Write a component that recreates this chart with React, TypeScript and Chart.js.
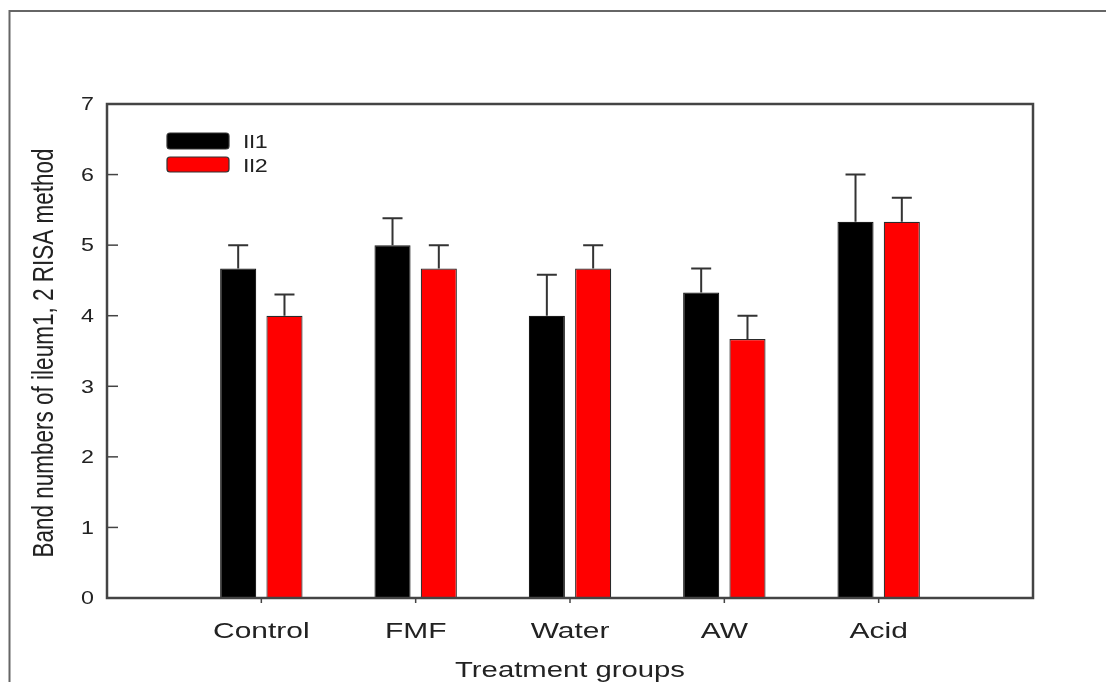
import React, { useEffect, useRef } from 'react';
import { Chart, registerables } from 'chart.js';

Chart.register(...registerables);

const categories = ['Control', 'FMF', 'Water', 'AW', 'Acid'];
const seriesNames = ['Il1', 'Il2'];
const il1Values = [4.67, 5.0, 4.0, 4.33, 5.33];
const il1Errors = [0.33, 0.38, 0.58, 0.34, 0.67];
const il2Values = [4.0, 4.67, 4.67, 3.67, 5.33];
const il2Errors = [0.3, 0.33, 0.33, 0.33, 0.34];
const yTickValues = [0, 1, 2, 3, 4, 5, 6, 7];
const yTitle = 'Band numbers of ileum1, 2 RISA method';
const xTitle = 'Treatment groups';

const FONT = '"Liberation Sans", Arial, Helvetica, sans-serif';
const TEXT = '#222';
const AXIS = '#444';
const SX = 1.33;

function drawText(
  ctx: CanvasRenderingContext2D,
  text: string,
  x: number,
  y: number,
  size: number,
  align: CanvasTextAlign,
  baseline: CanvasTextBaseline,
  stretch: number,
  rotated = false
) {
  ctx.save();
  ctx.translate(x, y);
  if (rotated) {
    ctx.rotate(-Math.PI / 2);
    ctx.scale(1, stretch);
  } else {
    ctx.scale(stretch, 1);
  }
  ctx.font = `${size}px ${FONT}`;
  ctx.fillStyle = TEXT;
  ctx.textAlign = align;
  ctx.textBaseline = baseline;
  ctx.fillText(text, 0, 0);
  ctx.restore();
}

function roundRect(ctx: CanvasRenderingContext2D, x: number, y: number, w: number, h: number, r: number) {
  ctx.beginPath();
  ctx.moveTo(x + r, y);
  ctx.lineTo(x + w - r, y);
  ctx.quadraticCurveTo(x + w, y, x + w, y + r);
  ctx.lineTo(x + w, y + h - r);
  ctx.quadraticCurveTo(x + w, y + h, x + w - r, y + h);
  ctx.lineTo(x + r, y + h);
  ctx.quadraticCurveTo(x, y + h, x, y + h - r);
  ctx.lineTo(x, y + r);
  ctx.quadraticCurveTo(x, y, x + r, y);
  ctx.closePath();
}

const decorPlugin = {
  id: 'decor',
  beforeDraw(chart: any) {
    const ctx: CanvasRenderingContext2D = chart.ctx;
    ctx.save();
    ctx.fillStyle = '#fff';
    ctx.fillRect(0, 0, chart.width, chart.height);
    // outer frame (top and left visible)
    ctx.strokeStyle = '#666';
    ctx.lineWidth = 2;
    ctx.beginPath();
    ctx.moveTo(9.5, chart.height + 2);
    ctx.lineTo(9.5, 11);
    ctx.lineTo(chart.width + 2, 11);
    ctx.stroke();
    ctx.restore();
  },
  afterDatasetsDraw(chart: any) {
    const ctx: CanvasRenderingContext2D = chart.ctx;
    const area = chart.chartArea;
    const xs = chart.scales.x;
    const ys = chart.scales.y;
    ctx.save();

    // error bars
    chart.data.datasets.forEach((ds: any, di: number) => {
      const meta = chart.getDatasetMeta(di);
      meta.data.forEach((bar: any, i: number) => {
        const v = ds.data[i];
        const e = ds.errors[i];
        if (v == null || e == null) return;
        const yTop = ys.getPixelForValue(v);
        const yErr = ys.getPixelForValue(v + e);
        ctx.strokeStyle = '#333';
        ctx.lineWidth = 2;
        ctx.beginPath();
        ctx.moveTo(bar.x, yTop);
        ctx.lineTo(bar.x, yErr);
        ctx.moveTo(bar.x - 10, yErr);
        ctx.lineTo(bar.x + 10, yErr);
        ctx.stroke();
      });
    });

    // plot box
    ctx.strokeStyle = AXIS;
    ctx.lineWidth = 2.5;
    ctx.strokeRect(area.left, area.top, area.right - area.left, area.bottom - area.top);

    // y ticks (inward) and labels
    ctx.lineWidth = 1.5;
    yTickValues.forEach((v) => {
      const y = ys.getPixelForValue(v);
      if (v > 0 && v < 7) {
        ctx.beginPath();
        ctx.moveTo(area.left, y);
        ctx.lineTo(area.left + 11, y);
        ctx.stroke();
      }
      drawText(ctx, String(v), 94, y + 6.3, 17.5, 'right', 'alphabetic', SX);
    });

    // x ticks and labels
    categories.forEach((c, i) => {
      const x = xs.getPixelForValue(i + 1);
      ctx.beginPath();
      ctx.moveTo(x, area.bottom);
      ctx.lineTo(x, area.bottom + 5);
      ctx.stroke();
      drawText(ctx, c, x, 638, 22.5, 'center', 'alphabetic', SX);
    });

    // axis titles
    drawText(ctx, xTitle, (area.left + area.right) / 2, 677, 22, 'center', 'alphabetic', SX);
    drawText(ctx, yTitle, 53, (area.top + area.bottom) / 2 + 2, 22.5, 'center', 'alphabetic', 1.35, true);

    // legend
    const boxes = [
      { y: 133, h: 16, base: 148 },
      { y: 157, h: 15, base: 172 },
    ];
    chart.data.datasets.forEach((ds: any, di: number) => {
      const b = boxes[di];
      roundRect(ctx, 167, b.y, 62, b.h, 3);
      ctx.fillStyle = ds.backgroundColor;
      ctx.fill();
      ctx.strokeStyle = '#333';
      ctx.lineWidth = 1.2;
      ctx.stroke();
      drawText(ctx, ds.label, 243, b.base, 17.5, 'left', 'alphabetic', SX);
    });

    ctx.restore();
  },
};

export default function App() {
  const ref = useRef<HTMLCanvasElement | null>(null);

  useEffect(() => {
    if (!ref.current) return;
    const labels = ['', ...categories, ''];
    const chart = new Chart(ref.current, {
      type: 'bar',
      data: {
        labels,
        datasets: [
          {
            label: seriesNames[0],
            data: [null, ...il1Values, null],
            errors: [null, ...il1Errors, null],
            backgroundColor: '#000000',
            borderColor: '#1a1a1a',
            borderWidth: 1.2,
            categoryPercentage: 0.6,
            barPercentage: 0.78,
          } as any,
          {
            label: seriesNames[1],
            data: [null, ...il2Values, null],
            errors: [null, ...il2Errors, null],
            backgroundColor: '#ff0000',
            borderColor: '#2a2a2a',
            borderWidth: 1.2,
            categoryPercentage: 0.6,
            barPercentage: 0.78,
          } as any,
        ],
      },
      options: {
        responsive: false,
        animation: false,
        layout: { padding: { top: 104, right: 73, left: 0, bottom: 0 } },
        plugins: { legend: { display: false }, tooltip: { enabled: false } },
        scales: {
          x: {
            offset: false,
            grid: { display: false },
            border: { display: false },
            ticks: { display: false },
            afterFit: (s: any) => {
              s.height = 84;
            },
          },
          y: {
            min: 0,
            max: 7,
            grid: { display: false },
            border: { display: false },
            ticks: { display: false, stepSize: 1 },
            afterFit: (s: any) => {
              s.width = 107;
            },
          },
        },
      },
      plugins: [decorPlugin],
    });
    return () => chart.destroy();
  }, []);

  return (
    <div style={{ position: 'absolute', left: 0, top: 0, width: 1106, height: 682, background: '#fff' }}>
      <canvas ref={ref} width={1106} height={682} style={{ display: 'block' }} />
    </div>
  );
}
